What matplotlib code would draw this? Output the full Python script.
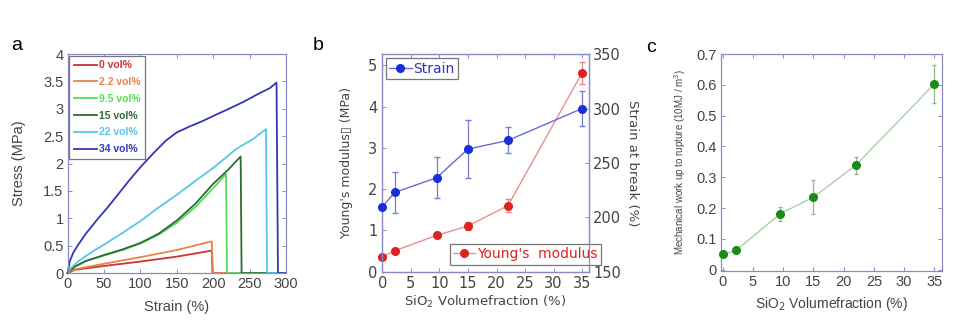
import matplotlib
matplotlib.use("Agg")
import matplotlib.pyplot as plt
from matplotlib.lines import Line2D
import numpy as np

# ---------------- data ----------------
# Panel a: stress-strain curves (strain %, stress MPa)
labels_a = ["0 vol%", "2.2 vol%", "9.5 vol%", "15 vol%", "22 vol%", "34 vol%"]
strain_0 = [0, 10, 50, 100, 150, 198, 199, 300]
stress_0 = [0, 0.06, 0.13, 0.21, 0.30, 0.41, 0, 0]
strain_2 = [0, 10, 50, 100, 150, 198, 199.5, 300]
stress_2 = [0, 0.07, 0.17, 0.29, 0.42, 0.58, 0, 0]
strain_9 = [0, 10, 25, 50, 75, 100, 125, 150, 175, 200, 217.6, 219, 300]
stress_9 = [0, 0.12, 0.22, 0.32, 0.42, 0.54, 0.70, 0.92, 1.20, 1.55, 1.81, 0, 0]
strain_15 = [0, 10, 25, 50, 75, 100, 125, 150, 175, 200, 220, 237.7, 239, 300]
stress_15 = [0, 0.12, 0.22, 0.33, 0.43, 0.55, 0.72, 0.96, 1.26, 1.63, 1.88, 2.13, 0, 0]
strain_22 = [0, 5, 15, 35, 50, 76, 100, 122, 150, 175, 200, 232, 255, 272.5, 274, 300]
stress_22 = [0, 0.1, 0.22, 0.40, 0.52, 0.74, 0.95, 1.17, 1.43, 1.68, 1.92, 2.27, 2.45, 2.63, 0, 0]
strain_34 = [0, 3, 8, 14.6, 25, 42, 55, 70, 85, 101, 120, 135, 150, 168, 186, 205, 223,
             242, 260, 278, 287, 289, 300]
stress_34 = [0, 0.22, 0.38, 0.52, 0.72, 1.0, 1.2, 1.45, 1.7, 1.95, 2.22, 2.42, 2.57, 2.68,
             2.78, 2.9, 3.01, 3.13, 3.26, 3.38, 3.48, 0, 0]

# Panel b
vf = [0, 2.2, 9.5, 15, 22, 35]
strain_break = [209.7, 222.9, 236.4, 262.7, 270.7, 300.0]
strain_err = [0, 19, 19, 27, 12, 16]
modulus = [0.355, 0.51, 0.88, 1.11, 1.60, 4.82]
modulus_err = [0.02, 0.03, 0.05, 0.10, 0.16, 0.27]

# Panel c
work = [0.049, 0.062, 0.181, 0.235, 0.339, 0.603]
work_err = [0.004, 0.005, 0.023, 0.055, 0.028, 0.063]

# ---------------- style ----------------
spine_c = "#8a8ac8"
tick_c = "#444444"
font_a = "Liberation Sans"
font_b = "DejaVu Sans"

fig = plt.figure(figsize=(9.6, 3.22), dpi=100)


def style_axes(ax, fam, size=8.5, right=True):
    for s in ax.spines.values():
        s.set_color(spine_c)
        s.set_linewidth(0.9)
    ax.tick_params(direction="in", length=3, width=0.7, color=spine_c,
                   labelcolor=tick_c, labelsize=size, top=True, right=right, pad=3)
    for lab in ax.get_xticklabels() + ax.get_yticklabels():
        lab.set_family(fam)


# ---------------- panel a ----------------
axa = fig.add_axes([0.0705, 0.152, 0.2274, 0.680])
cols_a = ["#cc3333", "#e8844a", "#55dd55", "#2f6b3a", "#55c8e8", "#3535b8"]
series_a = [(strain_0, stress_0), (strain_2, stress_2), (strain_9, stress_9),
            (strain_15, stress_15), (strain_22, stress_22), (strain_34, stress_34)]
for (sx, sy), c, lab in zip(series_a, cols_a, labels_a):
    axa.plot(sx, sy, color=c, lw=1.3, label=lab, clip_on=False)
axa.set_xlim(0, 300)
axa.set_ylim(0, 4)
axa.set_xticks(np.arange(0, 301, 50))
axa.set_yticks(np.arange(0, 4.01, 0.5))
axa.set_yticklabels(["0", "0.5", "1", "1.5", "2", "2.5", "3", "3.5", "4"])
style_axes(axa, font_a, 10.5)
axa.set_xlabel("Strain (%)", family=font_a, fontsize=10.5, color=tick_c, labelpad=6)
axa.set_ylabel("Stress (MPa)", family=font_a, fontsize=10.5, color=tick_c, labelpad=12)
leg = axa.legend(loc="upper left", prop={"family": font_a, "size": 7.5, "weight": "bold"},
                 frameon=True, fancybox=False, edgecolor="#777777", framealpha=1,
                 handlelength=2.2, handletextpad=0.2, borderpad=0.45, labelspacing=0.65,
                 borderaxespad=0.15)
leg.get_frame().set_linewidth(0.9)
for t, c in zip(leg.get_texts(), cols_a):
    t.set_color(c)
fig.text(17 / 960, 1 - 45 / 322, "a", fontsize=14, family=font_a, ha="center", va="center")

# ---------------- panel b ----------------
axb = fig.add_axes([0.3976, 0.156, 0.216, 0.676])
axb2 = axb.twinx()
red_line = "#e89090"
red_mk = "#dd2222"
blue_line = "#6a6ad8"
blue_mk = "#1a2ed6"
axb.errorbar(vf, modulus, yerr=modulus_err, color=red_line, lw=1.0, ecolor="#e08888",
             elinewidth=0.9, capsize=2, marker="o", ms=5.5, mfc=red_mk, mec=red_mk,
             clip_on=False, zorder=3)
axb2.errorbar(vf, strain_break, yerr=strain_err, color=blue_line, lw=1.0, ecolor="#7a7ad8",
              elinewidth=0.9, capsize=2, marker="o", ms=5.5, mfc=blue_mk, mec=blue_mk,
              clip_on=False, zorder=3)
axb.set_xlim(-0.1, 36.2)
axb.set_ylim(0, 5.27)
axb2.set_ylim(150, 350)
axb.set_xticks(np.arange(0, 36, 5))
axb.set_yticks([0, 1, 2, 3, 4, 5])
axb2.set_yticks([150, 200, 250, 300, 350])
style_axes(axb, font_b, 10.5, right=False)
style_axes(axb2, font_b, 10.5)
axb.tick_params(top=True)
axb.set_xlabel("SiO$_2$ Volumefraction (%)", family=font_b, fontsize=9.5, color=tick_c, labelpad=2)
axb.set_ylabel("Young's modulus\u25af (MPa)", family=font_b, fontsize=9, color=tick_c, labelpad=11)
axb2.set_ylabel("Strain at break (%)", family=font_b, fontsize=9.5, color=tick_c,
                rotation=-90, labelpad=13)
h_blue = Line2D([], [], color=blue_line, lw=1.0, marker="o", ms=5.5, mfc=blue_mk, mec=blue_mk)
h_red = Line2D([], [], color=red_line, lw=1.0, marker="o", ms=5.5, mfc=red_mk, mec=red_mk)
lb = axb2.legend([h_blue], ["Strain"], loc="upper left", prop={"family": font_b, "size": 10},
                 frameon=True, fancybox=False, edgecolor="#777777", framealpha=1,
                 handlelength=1.6, handletextpad=0.1, borderpad=0.25, borderaxespad=0.3)
lb.get_frame().set_linewidth(0.9)
for t in lb.get_texts():
    t.set_color("#3030c0")
lr = axb.legend([h_red], ["Young's  modulus"], loc="lower right", bbox_to_anchor=(1.09, 0.0),
                prop={"family": font_b, "size": 10},
                frameon=True, fancybox=False, edgecolor="#777777", framealpha=1,
                handlelength=1.6, handletextpad=0.1, borderpad=0.25)
lr.get_frame().set_linewidth(0.9)
for t in lr.get_texts():
    t.set_color("#dd2222")
fig.text(318 / 960, 1 - 45 / 322, "b", fontsize=14, family=font_a, ha="center", va="center")

# ---------------- panel c ----------------
axc = fig.add_axes([0.751, 0.159, 0.2299, 0.673])
axc.errorbar(vf, work, yerr=work_err, color="#a8d0a8", lw=1.0, ecolor="#90b890",
             elinewidth=0.9, capsize=1.5, marker="o", ms=5.5, mfc="#1a8a1a", mec="#1a8a1a",
             clip_on=False, zorder=3)
axc.set_xlim(-0.28, 36.2)
axc.set_ylim(-0.004, 0.7)
axc.set_xticks(np.arange(0, 36, 5))
axc.set_yticks(np.arange(0, 0.71, 0.1))
axc.set_yticklabels(["0", "0.1", "0.2", "0.3", "0.4", "0.5", "0.6", "0.7"])
style_axes(axc, font_a, 10.5)
axc.set_xlabel("SiO$_2$ Volumefraction (%)", family=font_a, fontsize=10, color=tick_c, labelpad=4)
axc.set_ylabel("Mechanical work up to rupture (10MJ / m$^3$)", family=font_a, fontsize=7,
               color=tick_c, labelpad=6)
fig.text(651 / 960, 1 - 47 / 322, "c", fontsize=14, family=font_a, ha="center", va="center")

fig.savefig("out.png", dpi=100)
